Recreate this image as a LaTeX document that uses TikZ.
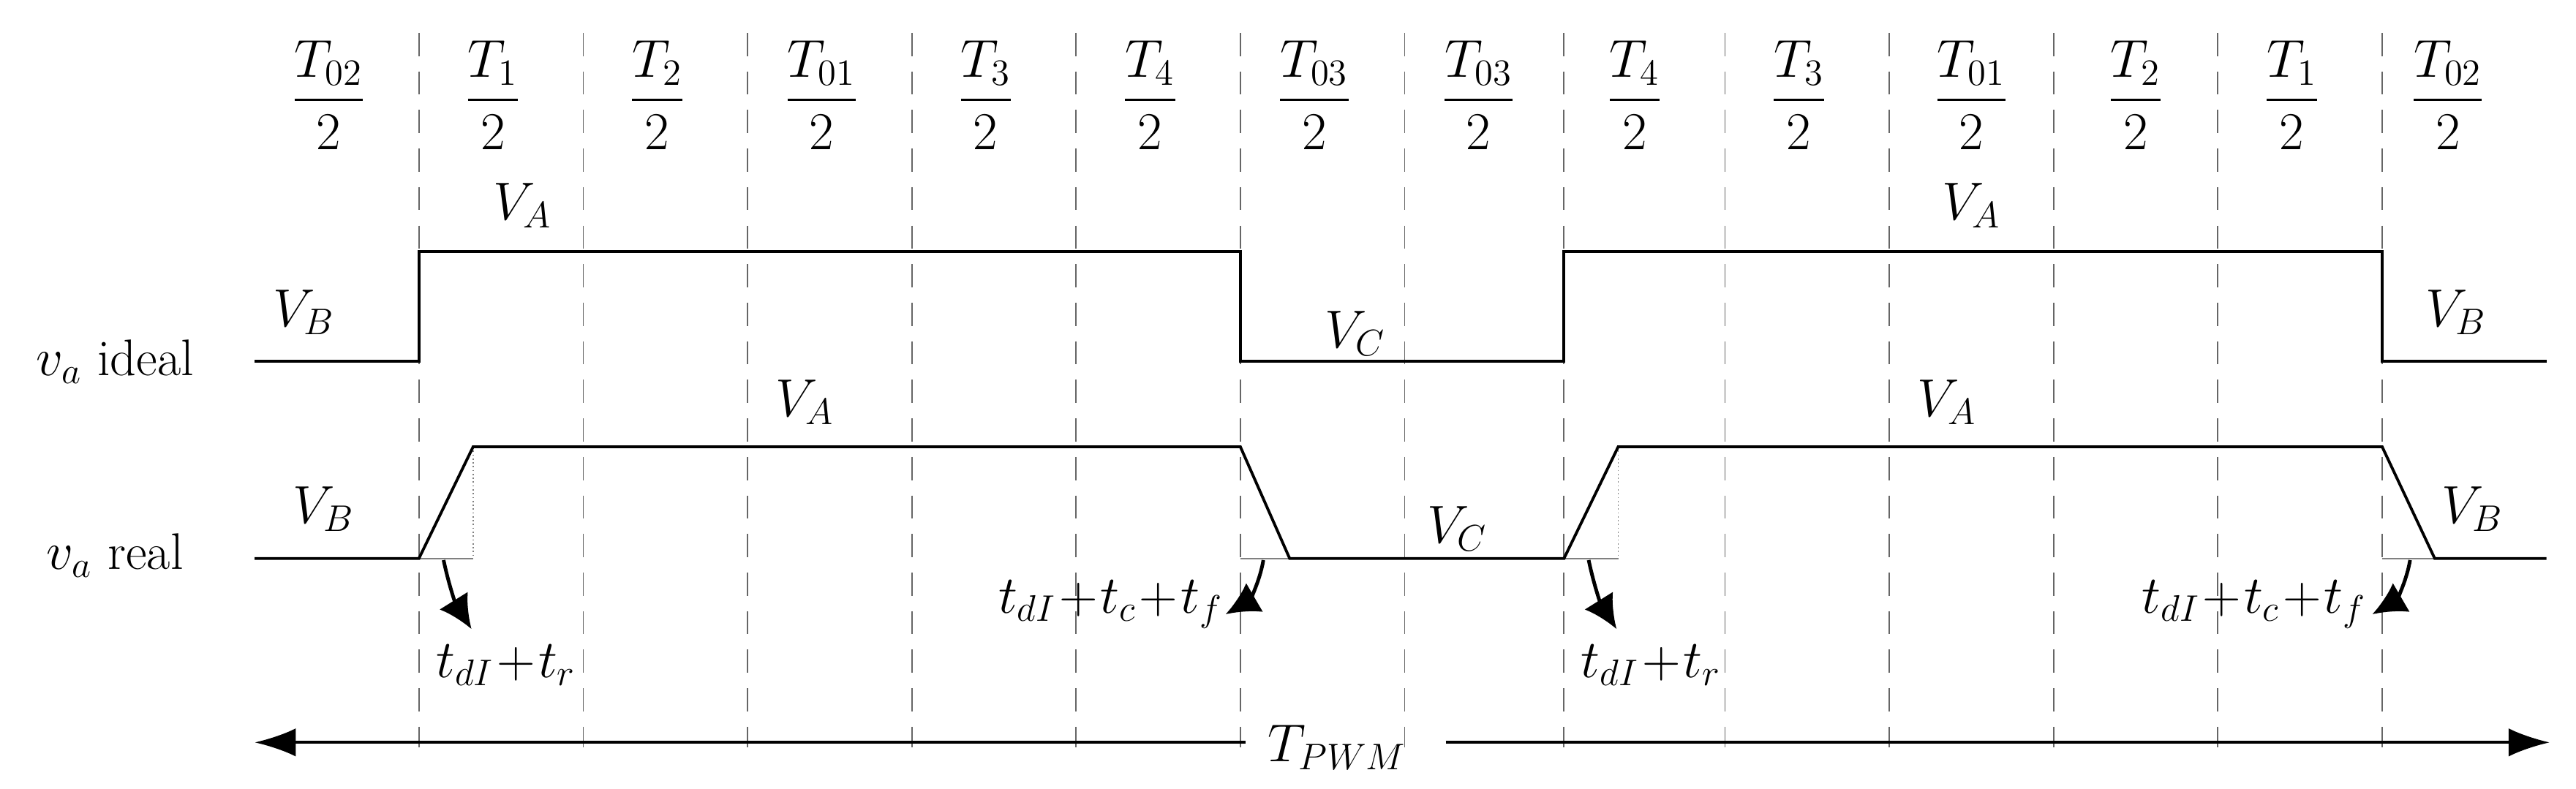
\documentclass[tikz,border=0pt]{standalone}
\usepackage{amsmath}
\usepackage{tikz}
\usetikzlibrary{arrows.meta}

\tikzset{
  wave/.style={line width=1.1pt},
  grid/.style={gray!80!black, dash pattern=on 9pt off 6pt, line width=0.5pt},
  helper/.style={gray, line width=0.5pt},
  delay/.style={line width=1.4pt, -{Latex[length=13pt,width=13pt]}},
  lbl/.style={font=\fontsize{20}{24}\selectfont, inner sep=1pt}
}

\begin{document}
\begin{tikzpicture}[x=0.02246cm, y=-0.02246cm]
\useasboundingbox (0,0) rectangle (1568,480);

% time slots
\foreach \x in {255,355,455,555,655,755,855,952,1050,1150,1250,1350,1450}
   \draw [grid] (\x,20) -- (\x,455);

\foreach \x/\t in {200/T_{02},300/T_1,400/T_2,500/T_{01},600/T_3,700/T_4,800/T_{03},
                   900/T_{03},995/T_4,1095/T_3,1200/T_{01},1300/T_2,1395/T_1,1490/T_{02}}
   \node [lbl] (s\x) at (\x,58) {$\dfrac{\t}{2}$};

% ideal
\draw [wave] (155,220) -- (255,220) -- (255,153) -- (755,153) -- (755,220)
   -- (952,220) -- (952,153) -- (1450,153) -- (1450,220) -- (1550,220);
\node [lbl] (ib1) at (185,190) {$V_B$};
\node [lbl] (ia1) at (318,125) {$V_A$};
\node [lbl] (ic)  at (825,203) {$V_C$};
\node [lbl] (ia2) at (1200,125) {$V_A$};
\node [lbl] (ib2) at (1495,190) {$V_B$};
\node [lbl] (ideal) at (70,220) {$v_a$ ideal};

% real
\draw [helper] (255,340) -- (288,340);
\draw [helper, densely dotted] (288,272) -- (288,340);
\draw [helper] (755,340) -- (785,340);
\draw [helper] (952,340) -- (985,340);
\draw [helper, densely dotted] (985,272) -- (985,340);
\draw [helper] (1450,340) -- (1482,340);
\draw [wave] (155,340) -- (255,340) -- (288,272) -- (755,272) -- (785,340)
   -- (952,340) -- (985,272) -- (1450,272) -- (1482,340) -- (1550,340);
\node [lbl] (rb1) at (197,310) {$V_B$};
\node [lbl] (ra1) at (490,245) {$V_A$};
\node [lbl] (rc)  at (887,322) {$V_C$};
\node [lbl] (ra2) at (1185,245) {$V_A$};
\node [lbl] (rb2) at (1505,310) {$V_B$};
\node [lbl] (real) at (70,338) {$v_a$ real};

% delays
\coordinate (d1) at (270,341);
\coordinate (d2) at (769,341);
\coordinate (d3) at (967,341);
\coordinate (d4) at (1467,341);
\node [lbl] (t1) at (308,405) {$t_{dI}\!+\!t_r$};
\node [lbl] (t2) at (676,368) {$t_{dI}\!+\!t_c\!+\!t_f$};
\node [lbl] (t3) at (1005,405) {$t_{dI}\!+\!t_r$};
\node [lbl] (t4) at (1372,368) {$t_{dI}\!+\!t_c\!+\!t_f$};
\draw [delay] (d1) to[bend right=10] (287,383);
\draw [delay] (d2) to[bend left=25] (746,374);
\draw [delay] (d3) to[bend right=10] (984,383);
\draw [delay] (d4) to[bend left=25] (1444,374);

% period
\node [lbl] (tpwm) at (814,455) {$T_{PWM}$};
\coordinate (pl) at (155,452);
\coordinate (pr) at (1552,452);
\draw [line width=1.1pt, -{Latex[length=16pt,width=11pt]}] (tpwm.west) ++(-12,-3) -- (pl);
\draw [line width=1.1pt, -{Latex[length=16pt,width=11pt]}] (tpwm.east) ++(22,-3) -- (pr);
\end{tikzpicture}
\end{document}
